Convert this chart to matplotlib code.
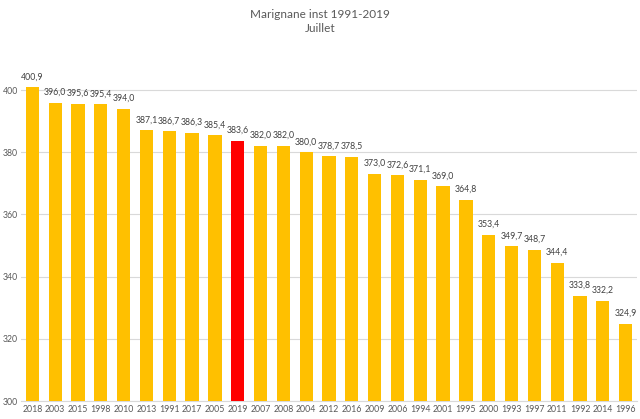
import matplotlib
matplotlib.use("Agg")
import matplotlib.pyplot as plt

years = ["2018","2003","2015","1998","2010","2013","1991","2017","2005","2019","2007","2008","2004","2012","2016","2009","2006","1994","2001","1995","2000","1993","1997","2011","1992","2014","1996"]
values = [400.9,396.0,395.6,395.4,394.0,387.1,386.7,386.3,385.4,383.6,382.0,382.0,380.0,378.7,378.5,373.0,372.6,371.1,369.0,364.8,353.4,349.7,348.7,344.4,333.8,332.2,324.9]
highlight = "2019"
yticks = [300, 320, 340, 360, 380, 400]

plt.rcParams['font.family'] = ['Lato', 'DejaVu Sans']

fig = plt.figure(figsize=(6.4, 4.19), dpi=100)
ax = fig.add_axes([21/640, 18/419, 616/640, 342/419])

colors = ["#FF0000" if y == highlight else "#FFC000" for y in years]
x = list(range(len(years)))
ax.bar(x, values, width=0.58, color=colors, zorder=3)
for xi, v in zip(x, values):
    ax.text(xi, v + 1.9, f"{v:.1f}".replace(".", ","), ha="center", va="bottom",
            fontsize=6.3, color="#404040", zorder=4)

ax.set_xlim(-0.5, len(years) - 0.5)
ax.set_ylim(300, 410)
ax.set_yticks(yticks)
ax.set_yticklabels([str(t) for t in yticks])
ax.set_xticks(x)
ax.set_xticklabels(years)
ax.tick_params(axis="both", length=0, labelsize=6.3, colors="#595959")
ax.tick_params(axis="x", pad=3)
ax.tick_params(axis="y", pad=2)
ax.grid(axis="y", color="#D9D9D9", linewidth=0.8, zorder=0)
for s in ["top", "right", "left"]:
    ax.spines[s].set_visible(False)
ax.spines["bottom"].set_color("#D9D9D9")

fig.text(0.5, 1 - 14/419, "Marignane inst 1991-2019", ha="center", va="center", fontsize=8.5, color="#595959")
fig.text(0.5, 1 - 29/419, "Juillet", ha="center", va="center", fontsize=8.5, color="#595959")

fig.savefig("out.png", dpi=100)
